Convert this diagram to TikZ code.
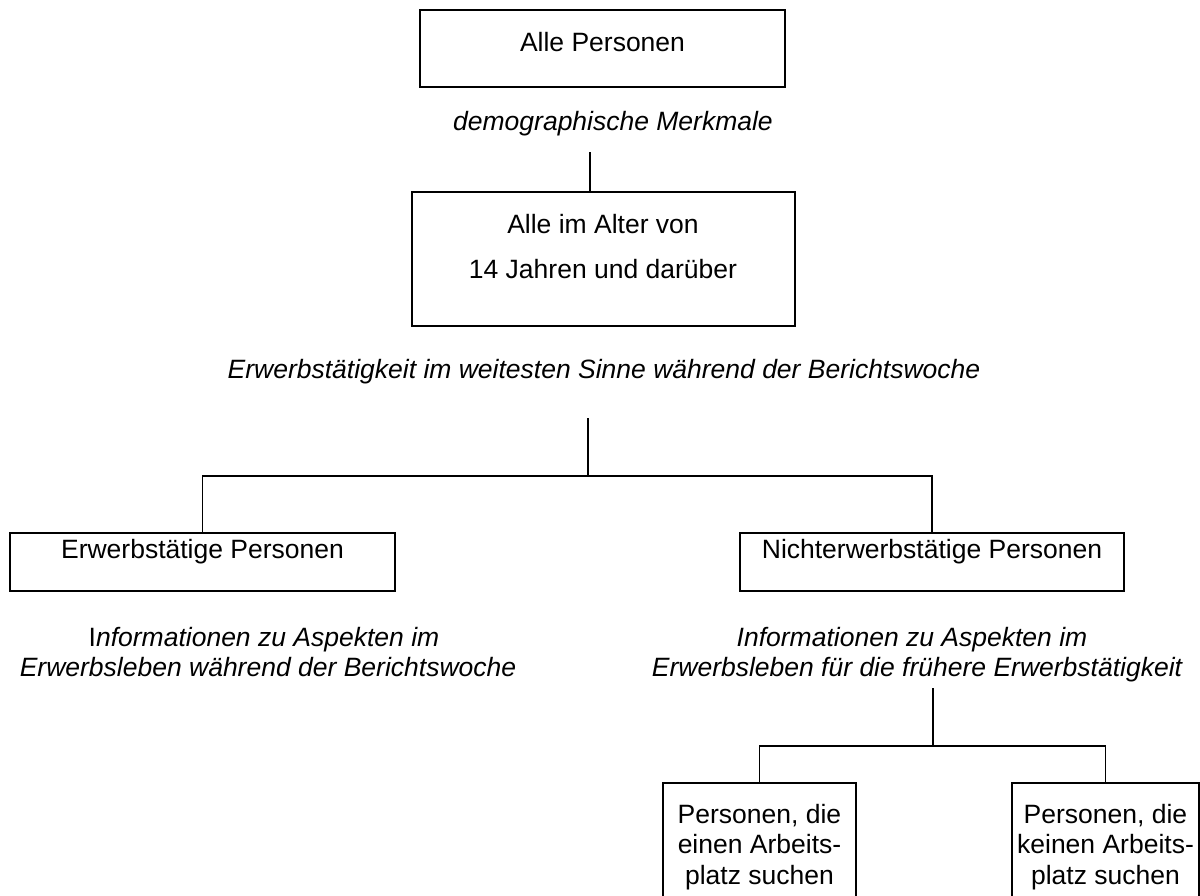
\documentclass[tikz,border=0pt]{standalone}
\usepackage{fontspec}
\setmainfont{Liberation Sans}
\begin{document}
\begin{tikzpicture}[x=1pt,y=-1pt,
  box/.style={draw=black, line width=1.7pt, inner sep=0pt},
  txt/.style={inner sep=0pt, anchor=base, font=\fontsize{26.5}{30}\selectfont},
  itx/.style={txt, font=\fontsize{26.5}{30}\selectfont\itshape},
  conn/.style={draw=black, line width=1.2pt}]
\useasboundingbox (0,0) rectangle (1200,895);
\clip (0,0) rectangle (1200,895);
% boxes
\node[box, minimum width=365pt, minimum height=77pt] (top) at (602.5,48.5) {};
\node[box, minimum width=383pt, minimum height=134pt] (age) at (603.5,259) {};
\node[box, minimum width=385pt, minimum height=58pt] (erw) at (202.5,562) {};
\node[box, minimum width=384pt, minimum height=58pt] (nerw) at (932,562) {};
\node[box, minimum width=193pt, minimum height=122pt] (p1) at (759.5,844) {};
\node[box, minimum width=187pt, minimum height=122pt] (p2) at (1105.5,844) {};
% texts
\node[txt] (ttop) at (602.5,51) {Alle Personen};
\node[itx] (tdemo) at (613,130) {demographische Merkmale};
\node[txt] (tage1) at (603,233) {Alle im Alter von};
\node[txt] (tage2) at (603,278) {14 Jahren und darüber};
\node[itx] (thead) at (604,378) {Erwerbstätigkeit im weitesten Sinne während der Berichtswoche};
\node[txt] (terw) at (202.5,558) {Erwerbstätige Personen};
\node[txt] (tnerw) at (932,558) {Nichterwerbstätige Personen};
\node[txt] (il1) at (264,646) {I\textit{nformationen zu Aspekten im}};
\node[itx] (il2) at (268,676) {Erwerbsleben während der Berichtswoche};
\node[itx] (ir1) at (912,646) {Informationen zu Aspekten im};
\node[itx] (ir2) at (917,676) {Erwerbsleben für die frühere Erwerbstätigkeit};
\node[txt] (p1a) at (759.5,823) {Personen, die};
\node[txt] (p1b) at (759.5,853) {einen Arbeits-};
\node[txt] (p1c) at (759.5,884) {platz suchen};
\node[txt] (p2a) at (1105.5,823) {Personen, die};
\node[txt] (p2b) at (1105.5,853) {keinen Arbeits-};
\node[txt] (p2c) at (1105.5,884) {platz suchen};
% connectors
\coordinate (c1) at (590,152);
\draw[conn] (c1) -- (c1 |- age.north);
\coordinate (c2) at (588,418);
\coordinate (j1) at (588,476);
\draw[conn] (c2) -- (j1);
\draw[conn] (erw.north) |- (j1) -| (nerw.north);
\coordinate (c3) at (933,688);
\coordinate (j2) at (933,746);
\draw[conn] (c3) -- (j2);
\draw[conn] (p1.north) |- (j2) -| (p2.north);
\end{tikzpicture}
\end{document}
